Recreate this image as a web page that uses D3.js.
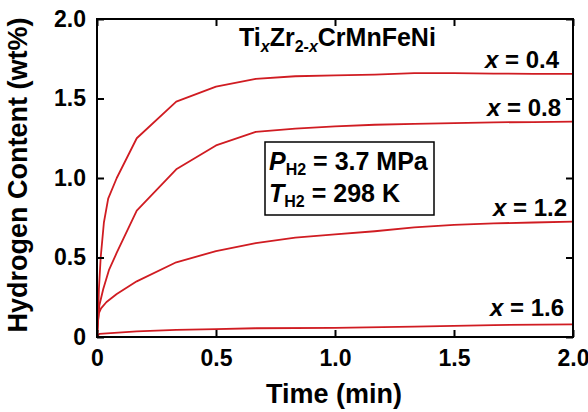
<!DOCTYPE html>
<html><head><meta charset="utf-8">
<script src="https://cdn.jsdelivr.net/npm/d3@7"></script>
<style>body{margin:0;background:#fff}svg{display:block}text{font-family:"Liberation Sans",Arial,sans-serif;font-weight:bold}</style>
</head><body>
<svg id="c" width="588" height="412"></svg>
<script>
// ---- data ----
const seriesNames = ["x = 0.4", "x = 0.8", "x = 1.2", "x = 1.6"];
const t04 = [0, 0.004, 0.008, 0.0155, 0.029, 0.047, 0.083, 0.167, 0.333, 0.5, 0.667, 0.833, 1.0, 1.167, 1.333, 1.5, 1.667, 1.833, 2.0];
const v04 = [0, 0.1, 0.3, 0.5, 0.72, 0.87, 1.0, 1.25, 1.48, 1.575, 1.623, 1.64, 1.645, 1.65, 1.66, 1.66, 1.657, 1.655, 1.655];
const t08 = [0, 0.004, 0.01, 0.026, 0.05, 0.083, 0.167, 0.333, 0.5, 0.667, 0.833, 1.0, 1.167, 1.333, 1.5, 1.667, 1.833, 2.0];
const v08 = [0, 0.1, 0.2, 0.3, 0.42, 0.53, 0.795, 1.055, 1.205, 1.29, 1.31, 1.325, 1.335, 1.34, 1.345, 1.35, 1.352, 1.355];
const t12 = [0, 0.003, 0.008, 0.017, 0.04, 0.083, 0.167, 0.333, 0.5, 0.667, 0.833, 1.0, 1.167, 1.333, 1.5, 1.667, 1.833, 2.0];
const v12 = [0, 0.08, 0.15, 0.18, 0.22, 0.27, 0.35, 0.47, 0.54, 0.59, 0.625, 0.645, 0.665, 0.69, 0.705, 0.715, 0.72, 0.725];
const t16 = [0, 0.01, 0.167, 0.333, 0.5, 0.667, 1.0, 1.333, 1.667, 2.0];
const v16 = [0, 0.02, 0.035, 0.045, 0.05, 0.055, 0.057, 0.065, 0.075, 0.08];
const xTicks = [0, 0.5, 1.0, 1.5, 2.0];
const xTickLabels = ["0", "0.5", "1.0", "1.5", "2.0"];
const yTicks = [0, 0.5, 1.0, 1.5, 2.0];
const yTickLabels = ["0", "0.5", "1.0", "1.5", "2.0"];

// ---- layout ----
const L = 97, R = 573, T = 19, B = 337;
const svg = d3.select("#c");
const x = d3.scaleLinear().domain([0, 2]).range([L, R]);
const y = d3.scaleLinear().domain([0, 2]).range([B, T]);
const red = "#d01c22";

const series = [[t04, v04], [t08, v08], [t12, v12], [t16, v16]];
const line = d3.line().x(d => x(d[0])).y(d => y(d[1]));
series.forEach(([ts, vs]) => {
  svg.append("path").datum(ts.map((t, i) => [t, vs[i]]))
    .attr("d", line).attr("fill", "none").attr("stroke", red).attr("stroke-width", 1.8)
    .attr("stroke-linejoin", "round");
});

// axes (ticks inward on all four sides)
const tl = 7;
const fmtX = (d, i) => xTickLabels[i], fmtY = (d, i) => yTickLabels[i];
const gb = svg.append("g").attr("transform", `translate(0,${B})`)
  .call(d3.axisBottom(x).tickValues(xTicks).tickFormat(fmtX).tickSizeInner(-tl).tickSizeOuter(0).tickPadding(13));
const gl = svg.append("g").attr("transform", `translate(${L},0)`)
  .call(d3.axisLeft(y).tickValues(yTicks).tickFormat(fmtY).tickSizeInner(-tl).tickSizeOuter(0).tickPadding(11));
const gt = svg.append("g").attr("transform", `translate(0,${T})`)
  .call(d3.axisTop(x).tickValues(xTicks).tickFormat("").tickSizeInner(-tl).tickSizeOuter(0));
const gr = svg.append("g").attr("transform", `translate(${R},0)`)
  .call(d3.axisRight(y).tickValues(yTicks).tickFormat("").tickSizeInner(-tl).tickSizeOuter(0));
[gb, gl, gt, gr].forEach(g => {
  g.select(".domain").remove();
  g.selectAll("line").attr("stroke", "#000").attr("stroke-width", 2);
  g.selectAll("text").attr("fill", "#000").style("font-size", "23px").style("font-family", "'Liberation Sans',Arial,sans-serif");
});
svg.append("rect").attr("x", L).attr("y", T).attr("width", R - L).attr("height", B - T)
  .attr("fill", "none").attr("stroke", "#000").attr("stroke-width", 2);

// axis titles
svg.append("text").attr("x", (L + R) / 2 - 1).attr("y", 403).attr("text-anchor", "middle")
  .style("font-size", "27px").text("Time (min)");
svg.append("text").attr("transform", `translate(27,${(T + B) / 2 - 3}) rotate(-90)`).attr("text-anchor", "middle")
  .style("font-size", "27px").text("Hydrogen Content (wt%)");

// title
const tt = svg.append("text").attr("x", 239).attr("y", 46).style("font-size", "25px");
tt.append("tspan").text("Ti");
tt.append("tspan").attr("dy", 6).style("font-size", "16px").style("font-style", "italic").text("x");
tt.append("tspan").attr("dy", -6).text("Zr");
tt.append("tspan").attr("dy", 6).style("font-size", "16px").text("2-");
tt.append("tspan").style("font-size", "16px").style("font-style", "italic").text("x");
tt.append("tspan").attr("dy", -6).text("CrMnFeNi");

// series labels
const labelPos = [[559, 68], [561, 116], [567, 216], [564, 316]];
seriesNames.forEach((n, i) => {
  const t = svg.append("text").attr("x", labelPos[i][0]).attr("y", labelPos[i][1])
    .attr("text-anchor", "end").style("font-size", "24px");
  t.append("tspan").style("font-style", "italic").text("x");
  t.append("tspan").text(n.slice(1));
});

// condition box
svg.append("rect").attr("x", 265).attr("y", 142).attr("width", 169).attr("height", 73)
  .attr("fill", "#fff").attr("stroke", "#000").attr("stroke-width", 1.5);
const b1 = svg.append("text").attr("x", 269).attr("y", 170).style("font-size", "25px");
b1.append("tspan").style("font-style", "italic").text("P");
b1.append("tspan").attr("dy", 5).style("font-size", "16px").text("H2");
b1.append("tspan").attr("dy", -5).text(" = 3.7 MPa");
const b2 = svg.append("text").attr("x", 269).attr("y", 202).style("font-size", "25px");
b2.append("tspan").style("font-style", "italic").text("T");
b2.append("tspan").attr("dy", 5).style("font-size", "16px").text("H2");
b2.append("tspan").attr("dy", -5).text(" = 298 K");
</script>
</body></html>
